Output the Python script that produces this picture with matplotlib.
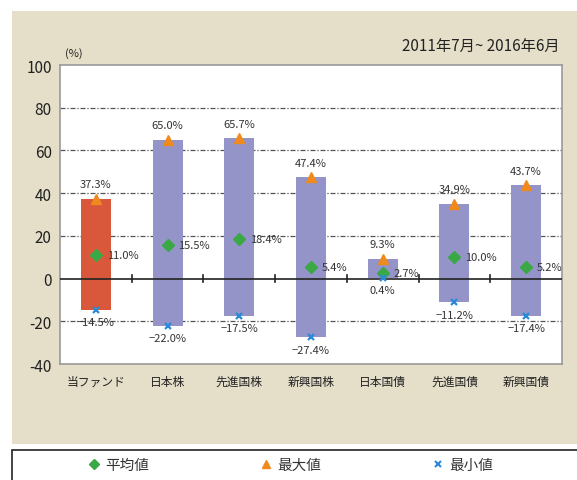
import matplotlib.pyplot as plt
import matplotlib.patches as mpatches
import numpy as np

plt.rcParams['font.family'] = ['Noto Sans CJK JP', 'DejaVu Sans']

categories = ['当ファンド', '日本株', '先進国株', '新興国株', '日本国債', '先進国債', '新興国債']
max_vals = [37.3, 65.0, 65.7, 47.4, 9.3, 34.9, 43.7]
min_vals = [-14.5, -22.0, -17.5, -27.4, 0.4, -11.2, -17.4]
avg_vals = [11.0, 15.5, 18.4, 5.4, 2.7, 10.0, 5.2]
bar_colors = ['#d9583b'] + ['#9494c8'] * 6

fig = plt.figure(figsize=(5.77, 4.81), dpi=100)
fig.patch.set_facecolor('white')

# beige panel behind the chart
panel = mpatches.Rectangle((12 / 577, 1 - 445 / 481), 1, (445 - 12) / 481,
                           transform=fig.transFigure, facecolor='#e5dfc9',
                           edgecolor='none', zorder=-5)
fig.patches.append(panel)

ax = fig.add_axes([60 / 577, 1 - 365 / 481, (562 - 60) / 577, (365 - 66) / 481])
ax.set_zorder(2)
ax.set_facecolor('white')

x = np.arange(len(categories))
heights = [mx - mn for mx, mn in zip(max_vals, min_vals)]
ax.bar(x, heights, bottom=min_vals, width=0.42, color=bar_colors, zorder=2)

ax.plot(x, avg_vals, linestyle='none', marker='D', markersize=6,
        color='#3aa845', zorder=4)
ax.plot(x, max_vals, linestyle='none', marker='^', markersize=7,
        color='#f08a1d', zorder=4)
ax.plot(x, min_vals, linestyle='none', marker='x', markersize=5,
        markeredgewidth=1.6, color='#2a8ad8', zorder=4)

for i in range(len(categories)):
    ax.text(x[i], max_vals[i] + 4.5, f'{max_vals[i]:.1f}%', ha='center',
            va='bottom', fontsize=8, color='#333333', zorder=5)
    ax.text(x[i], min_vals[i] - 3.5, f'−{abs(min_vals[i]):.1f}%' if min_vals[i] < 0
            else f'{min_vals[i]:.1f}%', ha='center', va='top', fontsize=8,
            color='#333333', zorder=5)
    ax.text(x[i] + 0.15, avg_vals[i], f'{avg_vals[i]:.1f}%', ha='left',
            va='center', fontsize=8, color='#333333', zorder=5)

ax.set_xlim(-0.5, len(categories) - 0.5)
ax.set_ylim(-40, 100)
ax.set_yticks(range(-40, 101, 20))
ax.set_yticklabels([str(v) for v in range(-40, 101, 20)], fontsize=11,
                   color='#222222')
for v in [80, 60, 40, 20, -20]:
    ax.axhline(v, color='#555555', linewidth=0.9, linestyle=(0, (4, 1.5, 1, 1.5)),
               zorder=1)
ax.axhline(0, color='#222222', linewidth=1.2, zorder=3)
# small ticks on the zero line between categories
for b in np.arange(0.5, len(categories) - 1, 1):
    ax.plot([b, b], [-1.8, 1.8], color='#222222', linewidth=1.2, zorder=3)

ax.set_xticks(x)
ax.set_xticklabels(categories, fontsize=8.5, color='#222222')
ax.tick_params(axis='x', length=0, pad=8)
ax.tick_params(axis='y', length=0, pad=6)
for s in ax.spines.values():
    s.set_color('#999999')
    s.set_linewidth(1.2)

fig.text(65 / 577, 1 - 57 / 481, '(%)', fontsize=8, color='#222222')
fig.text(560 / 577, 1 - 46 / 481, '2011年7月~ 2016年6月', fontsize=11,
         ha='right', va='center', color='#222222')

# legend box
leg = mpatches.Rectangle((12 / 577, -0.01), 1, (481 - 451) / 481 + 0.01,
                         transform=fig.transFigure, facecolor='white',
                         edgecolor='#222222', linewidth=1.2, zorder=-4)
fig.patches.append(leg)
handles = [
    plt.Line2D([], [], linestyle='none', marker='D', markersize=5, color='#3aa845'),
    plt.Line2D([], [], linestyle='none', marker='^', markersize=6, color='#f08a1d'),
    plt.Line2D([], [], linestyle='none', marker='x', markersize=5,
               markeredgewidth=1.5, color='#2a8ad8'),
]
fig.legend(handles, ['平均値', '最大値', '最小値'], loc='center',
           bbox_to_anchor=(290 / 577, 1 - 466 / 481), ncol=3, frameon=False,
           fontsize=10.5, columnspacing=7.5, handletextpad=0.3, handlelength=1,
           labelcolor='#333333')

fig.savefig('out.png', dpi=100)
